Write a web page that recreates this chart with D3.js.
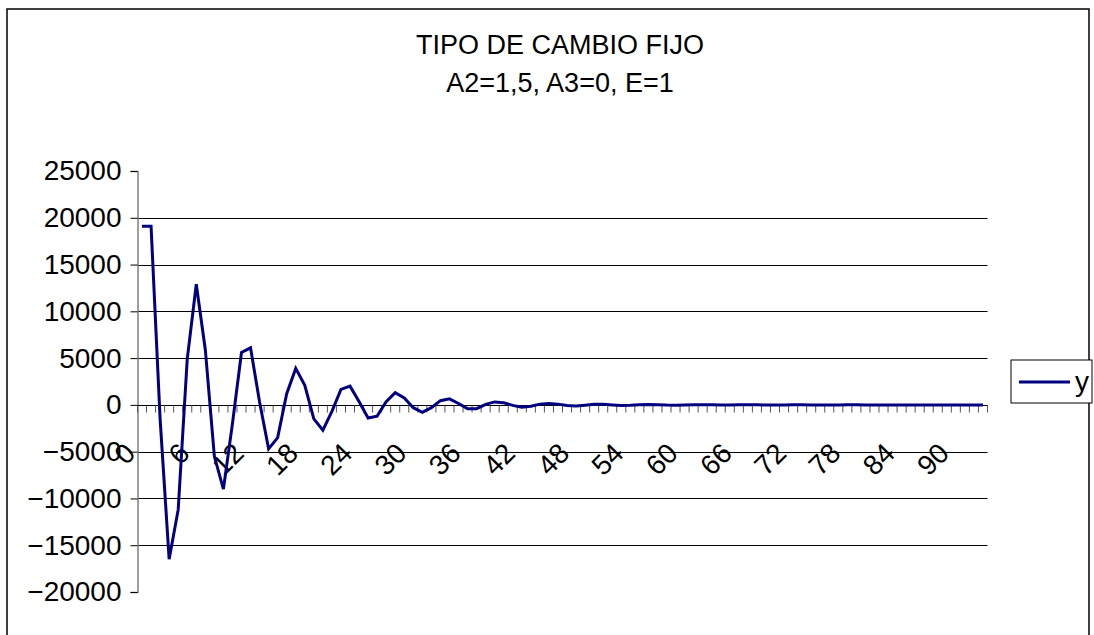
<!DOCTYPE html>
<html>
<head>
<meta charset="utf-8">
<script src="https://cdn.jsdelivr.net/npm/d3@7"></script>
<style>
  html, body { margin: 0; padding: 0; background: #fff; }
  svg { display: block; }
  text { font-family: "Liberation Sans", Arial, sans-serif; fill: #000; }
</style>
</head>
<body>
<script>
const titleLines = ["TIPO DE CAMBIO FIJO", "A2=1,5, A3=0, E=1"];
const seriesName = "y";
const categories = d3.range(0, 94);
const yValues = [
  19100, 19100, -1500, -16500, -11200, 4900, 12900, 5900, -5500, -9000,
  -2000, 5600, 6100, 300, -4700, -3500, 1200, 3900, 2100, -1500,
  -2700, -700, 1650, 2000, 350, -1400, -1200, 350, 1300, 750,
  -300, -800, -300, 450, 650, 150, -400, -400, 50, 320,
  230, -50, -260, -150, 80, 160, 80, -70, -110, -30,
  70, 70, 0, -60, -45, 20, 45, 25, -20, -30,
  -10, 15, 20, 5, -12, -12, 2, 10, 7, -3,
  -7, -3, 4, 5, 1, -3, -3, 0, 2, 2,
  0, -1, -1, 0, 1, 1, 0, 0, 0, 0,
  0, 0, 0, 0
];
const yTicks = [-20000, -15000, -10000, -5000, 0, 5000, 10000, 15000, 20000, 25000];
const xLabelEvery = 6;

const W = 1094, H = 635;
const svg = d3.select("body").append("svg").attr("width", W).attr("height", H);

// chart frame
svg.append("rect").attr("x", 7).attr("y", 9).attr("width", 1082).attr("height", 640)
  .attr("fill", "#fff").attr("stroke", "#000").attr("stroke-width", 1.5);

const plot = { left: 137.5, right: 987.5, top: 171, bottom: 592 };
const x = d3.scaleBand().domain(categories).range([plot.left, plot.right]).padding(0);
const y = d3.scaleLinear().domain([-20000, 25000]).range([plot.bottom, plot.top]);

// gridlines (not at the extremes)
svg.append("g").selectAll("line")
  .data(yTicks.filter(t => t > -20000 && t < 25000))
  .join("line")
  .attr("x1", plot.left).attr("x2", plot.right)
  .attr("y1", d => Math.round(y(d)) + 0.5).attr("y2", d => Math.round(y(d)) + 0.5)
  .attr("stroke", "#000").attr("stroke-width", 1);

// y axis
const yAxis = d3.axisLeft(y).tickValues(yTicks).tickSize(7).tickPadding(9)
  .tickFormat(d => (d < 0 ? "\u2212" : "") + Math.abs(d));
const gy = svg.append("g").attr("transform", `translate(${plot.left},0)`).call(yAxis);
gy.select(".domain").attr("stroke", "#808080").attr("stroke-width", 1.5);
gy.selectAll(".tick line").attr("stroke", "#000");
gy.selectAll(".tick text").style("font-size", "28px").attr("font-family", "Liberation Sans, Arial, sans-serif").attr("fill", "#000");

// x axis at zero, ticks between categories
const y0 = Math.round(y(0)) + 0.5;
const gx = svg.append("g");
gx.append("line").attr("x1", plot.left).attr("x2", plot.right).attr("y1", y0).attr("y2", y0)
  .attr("stroke", "#000").attr("stroke-width", 1.2);
const tickPos = categories.map(c => x(c)).concat([plot.right]);
gx.selectAll("line.tk").data(tickPos).join("line").attr("class", "tk")
  .attr("x1", d => d).attr("x2", d => d).attr("y1", y0).attr("y2", y0 + 7)
  .attr("stroke", "#555").attr("stroke-width", 1);

// rotated category labels
gx.selectAll("text.xl").data(categories.filter(c => c % xLabelEvery === 0)).join("text")
  .attr("class", "xl")
  .attr("transform", d => `translate(${x(d) + x.bandwidth() / 2 - 5},455) rotate(-45)`)
  .attr("text-anchor", "end")
  .style("font-size", "28px")
  .text(d => d);

// series line
const line = d3.line().x((d, i) => x(categories[i]) + x.bandwidth() / 2).y(d => y(d));
svg.append("path").datum(yValues).attr("d", line)
  .attr("fill", "none").attr("stroke", "#000080").attr("stroke-width", 3)
  .attr("stroke-linejoin", "miter");

// title
svg.append("g").selectAll("text").data(titleLines).join("text")
  .attr("x", 560).attr("y", (d, i) => 54 + i * 38)
  .attr("text-anchor", "middle").style("font-size", "27px").text(d => d);

// legend
const lg = svg.append("g");
lg.append("rect").attr("x", 1011).attr("y", 360).attr("width", 81).attr("height", 43)
  .attr("fill", "#fff").attr("stroke", "#000").attr("stroke-width", 1);
lg.append("line").attr("x1", 1019).attr("x2", 1070).attr("y1", 382).attr("y2", 382)
  .attr("stroke", "#000080").attr("stroke-width", 3);
lg.append("text").attr("x", 1075).attr("y", 391).style("font-size", "28px").text(seriesName);
</script>
</body>
</html>
